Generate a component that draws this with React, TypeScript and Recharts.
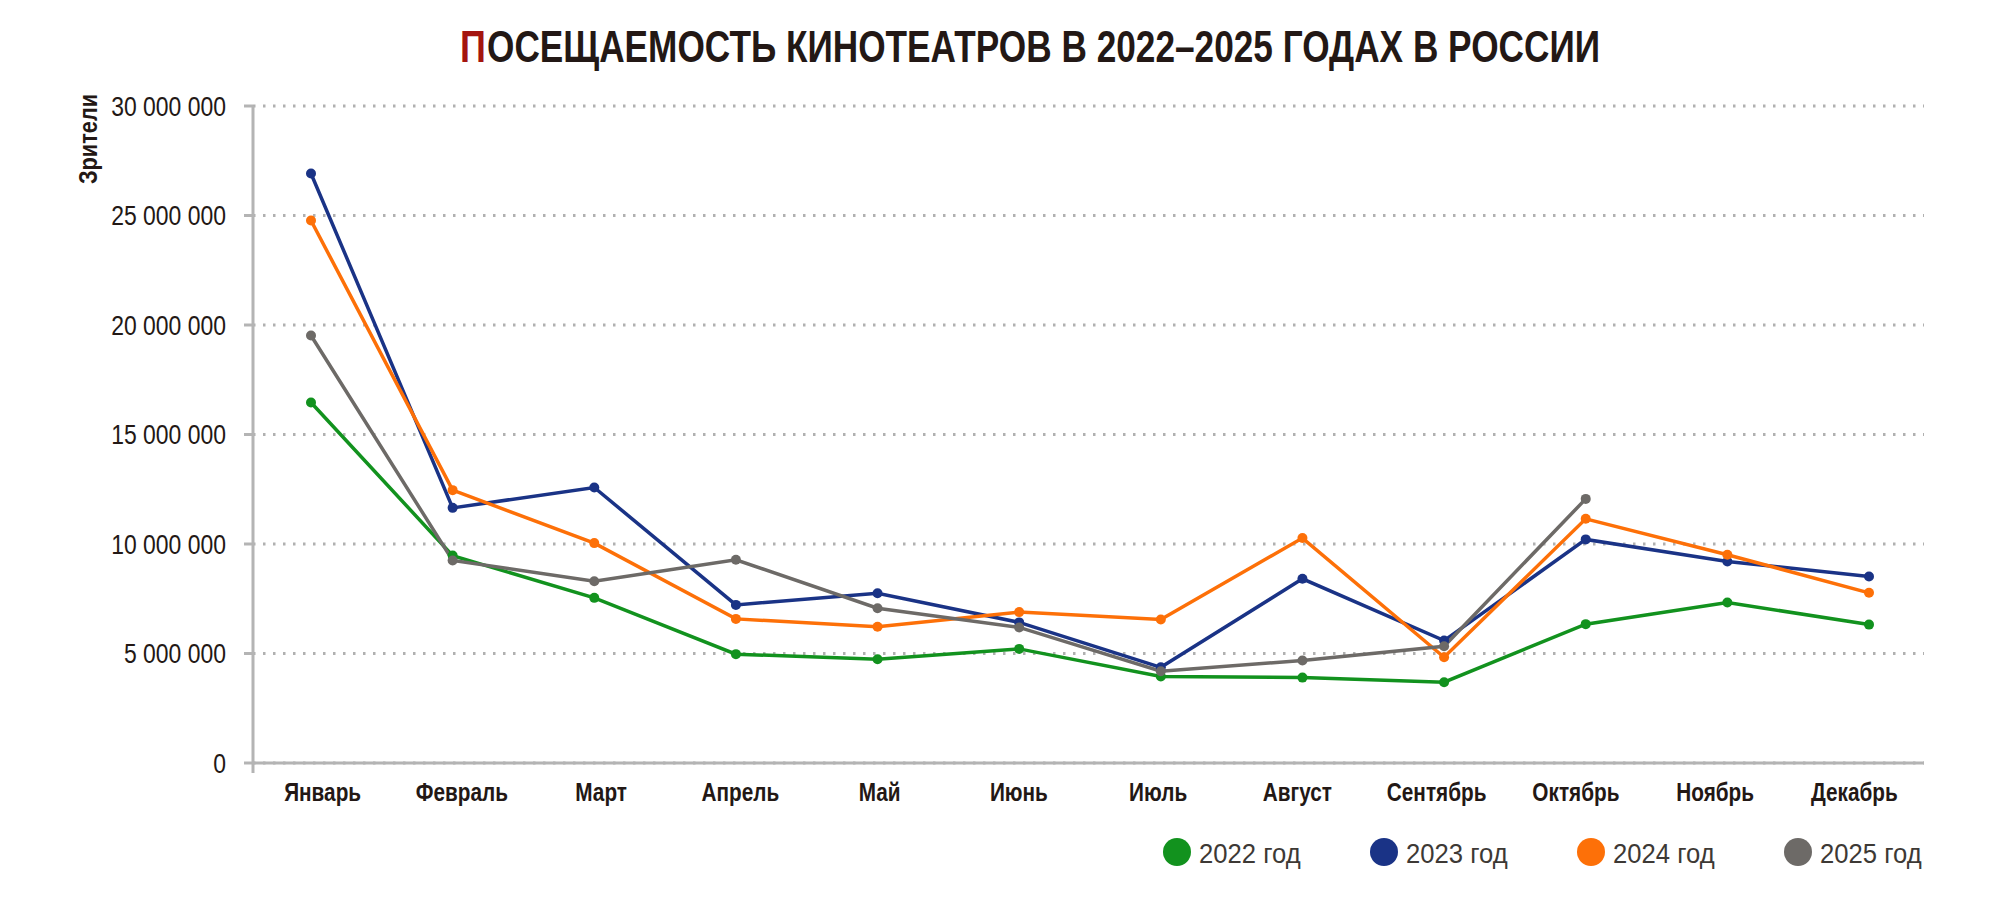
import React from 'react';
import { LineChart, Line, XAxis, YAxis, CartesianGrid } from 'recharts';

const months = ['Январь', 'Февраль', 'Март', 'Апрель', 'Май', 'Июнь', 'Июль', 'Август', 'Сентябрь', 'Октябрь', 'Ноябрь', 'Декабрь'];
const v2022 = [16460000, 9470000, 7540000, 4970000, 4740000, 5210000, 3950000, 3900000, 3690000, 6340000, 7330000, 6320000];
const v2023 = [26920000, 11650000, 12580000, 7220000, 7750000, 6420000, 4370000, 8410000, 5590000, 10210000, 9200000, 8520000];
const v2024 = [24770000, 12460000, 10040000, 6580000, 6220000, 6890000, 6550000, 10270000, 4830000, 11150000, 9510000, 7770000];
const v2025 = [19520000, 9250000, 8300000, 9280000, 7070000, 6190000, 4190000, 4680000, 5330000, 12060000, null, null];

const yTicks = [0, 5000000, 10000000, 15000000, 20000000, 25000000, 30000000];
const yTickLabels = ['0', '5 000 000', '10 000 000', '15 000 000', '20 000 000', '25 000 000', '30 000 000'];

const seriesNames = ['2022 год', '2023 год', '2024 год', '2025 год'];
const seriesKeys = ['y2022', 'y2023', 'y2024', 'y2025'];
const seriesColors = ['#12921e', '#1a3386', '#fd7008', '#6d6a67'];

const data = months.map((m, i) => ({
  m,
  y2022: v2022[i],
  y2023: v2023[i],
  y2024: v2024[i],
  y2025: v2025[i],
}));

const FONT = "'Liberation Sans', Arial, sans-serif";
const DARK = '#231815';
const AXIS = '#b4b4b4';

const MonthTick = (props: any) => {
  const { x, y, payload } = props;
  return (
    <text
      transform={`translate(${x},${y + 38}) scale(0.83,1)`}
      textAnchor="middle"
      fontFamily={FONT}
      fontWeight="bold"
      fontSize={25}
      fill={DARK}
    >
      {payload.value}
    </text>
  );
};

const ValueTick = (props: any) => {
  const { x, y, payload } = props;
  const label = yTickLabels[yTicks.indexOf(payload.value)];
  return (
    <text
      transform={`translate(${x},${y + 9.5}) scale(0.85,1)`}
      textAnchor="end"
      fontFamily={FONT}
      fontSize={27}
      fill={DARK}
    >
      {label}
    </text>
  );
};

export default function App() {
  return (
    <div style={{ position: 'absolute', left: 0, top: 0, width: 2000, height: 901, background: '#fff' }}>
      <LineChart
        width={2000}
        height={901}
        data={data}
        margin={{ top: 106, right: 76, bottom: 98, left: 0 }}
      >
        <CartesianGrid
          vertical={false}
          stroke="#b0b0b0"
          strokeWidth={3}
          strokeDasharray="2.5 7.5"
        />
        <XAxis
          dataKey="m"
          type="category"
          scale="point"
          padding={{ left: 58, right: 55 }}
          height={0}
          hide
        />
        <XAxis
          xAxisId="lbl"
          dataKey="m"
          type="category"
          scale="band"
          height={40}
          axisLine={{ stroke: AXIS, strokeWidth: 3 }}
          tickLine={false}
          tickSize={0}
          tickMargin={0}
          interval={0}
          tick={<MonthTick />}
        />
        <YAxis
          width={253}
          domain={[0, 30000000]}
          ticks={yTicks}
          interval={0}
          axisLine={{ stroke: AXIS, strokeWidth: 3 }}
          tickLine={{ stroke: AXIS, strokeWidth: 3 }}
          tickSize={9}
          tickMargin={18}
          tick={<ValueTick />}
        />
        {seriesKeys.map((k, i) => (
          <Line
            key={k}
            type="linear"
            dataKey={k}
            name={seriesNames[i]}
            stroke={seriesColors[i]}
            strokeWidth={3.5}
            dot={{ r: 5, fill: seriesColors[i], stroke: 'none' }}
            activeDot={false}
            isAnimationActive={false}
          />
        ))}
      </LineChart>
      <svg
        width={2000}
        height={901}
        style={{ position: 'absolute', left: 0, top: 0, pointerEvents: 'none' }}
      >
        <text
          transform="translate(460,62) scale(0.8,1)"
          fontFamily={FONT}
          fontWeight="bold"
          fontSize={45}
          fill="#a4150f"
        >
          П
        </text>
        <text
          x={487}
          y={62}
          textLength={1113}
          lengthAdjust="spacingAndGlyphs"
          fontFamily={FONT}
          fontWeight="bold"
          fontSize={45}
          fill={DARK}
        >
          ОСЕЩАЕМОСТЬ КИНОТЕАТРОВ В 2022–2025 ГОДАХ В РОССИИ
        </text>
        <text
          transform="translate(97,139) rotate(-90) scale(0.87,1)"
          textAnchor="middle"
          fontFamily={FONT}
          fontWeight="bold"
          fontSize={25}
          fill={DARK}
        >
          Зрители
        </text>
        <line x1={253} y1={763} x2={253} y2={773} stroke={AXIS} strokeWidth={3} />
        {seriesNames.map((n, i) => (
          <g key={n}>
            <circle cx={1177 + 207 * i} cy={852} r={14} fill={seriesColors[i]} />
            <text
              transform={`translate(${1177 + 207 * i + 22},863) scale(0.95,1)`}
              fontFamily={FONT}
              fontSize={27}
              fill="#3d3935"
            >
              {n}
            </text>
          </g>
        ))}
      </svg>
    </div>
  );
}
